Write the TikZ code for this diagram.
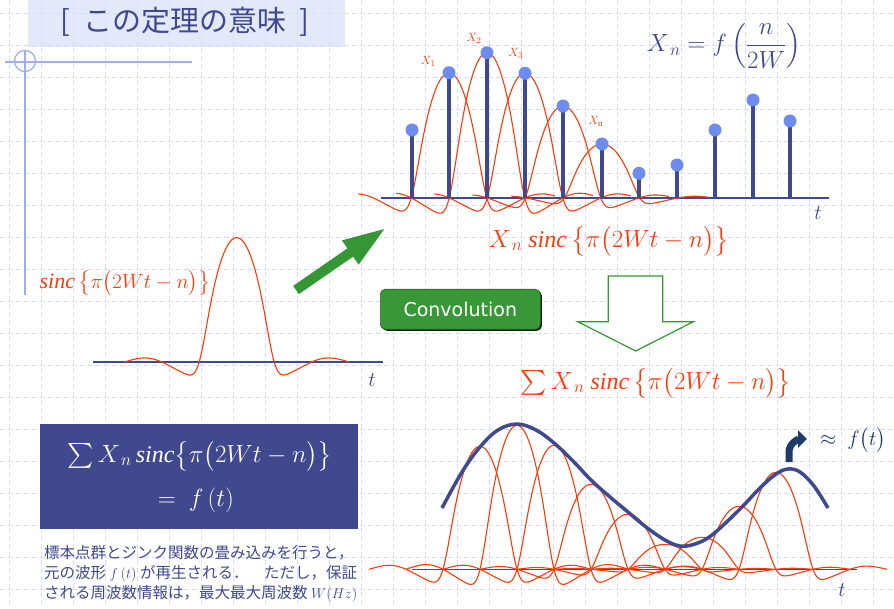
\documentclass[tikz,border=0pt]{standalone}
\usepackage{amsmath}
\usepackage{fontspec}
\setmainfont{Liberation Serif}
\newfontfamily\jpfont{Noto Sans CJK JP}
\newfontfamily\btnfont{DejaVu Sans}
\usepackage{xcolor}
\usetikzlibrary{arrows.meta, shadows}

\definecolor{sincred}{RGB}{250,60,10}
\definecolor{stemblue}{RGB}{64,72,142}
\definecolor{dotblue}{RGB}{110,140,240}
\definecolor{gridblue}{RGB}{214,221,246}
\definecolor{titlefill}{RGB}{227,232,251}
\definecolor{decoblue}{RGB}{160,174,240}
\definecolor{convgreen}{RGB}{56,152,56}
\definecolor{arrowgreen}{RGB}{52,150,52}
\definecolor{navyarrow}{RGB}{30,58,106}

\tikzset{
  gridline/.style={gridblue, line width=0.8pt, dash pattern=on 5pt off 3pt},
  decoline/.style={decoblue, line width=1.3pt},
  sincline/.style={sincred, line width=1.1pt},
  stemline/.style={stemblue, line width=4pt},
  axisline/.style={stemblue, line width=1.3pt},
  envelope/.style={stemblue, line width=3.5pt},
  redmath/.style={text=sincred, inner sep=0pt, font=\fontsize{24}{28}\selectfont},
  bluemath/.style={text=stemblue, inner sep=0pt, font=\fontsize{23}{28}\selectfont},
  whitemath/.style={text=white, inner sep=0pt, font=\fontsize{24}{28}\selectfont},
  smalllabel/.style={text=sincred, inner sep=0pt, font=\fontsize{13}{15}\selectfont},
  axislabel/.style={text=stemblue, inner sep=0pt, font=\fontsize{22}{24}\selectfont},
  jptext/.style={text=stemblue, inner sep=0pt, align=left, font=\jpfont\fontsize{15.5}{20}\selectfont},
  convbutton/.style={rounded corners=5pt, fill=convgreen, draw=convgreen!70!black, line width=0.6pt,
    text=white, font=\btnfont\fontsize{19}{22}\selectfont, minimum width=160pt, minimum height=40pt,
    drop shadow={shadow xshift=1.6pt, shadow yshift=-1.6pt, fill=black, opacity=0.9}},
  hollowarrow/.style={draw=arrowgreen, line width=1.2pt, fill=white}
}

\begin{document}
\begin{tikzpicture}[x=1pt, y=-1pt,
  declare function={sincw(\u)=sin(180*(\u))/(pi*(\u))*(0.25+(0.75+0.6*(\u)*(\u))/(1+((\u)*(\u)/1.1)^4));}]
\useasboundingbox (0,0) rectangle (894,608);

% background
\fill[titlefill] (28,0) rectangle (345,47);
\foreach \gx in {9.3,41.3,...,894} \draw[gridline] (\gx,0) -- (\gx,608);
\foreach \gy in {13.7,45.7,...,608} \draw[gridline] (0,\gy) -- (894,\gy);

% title and corner mark
\node[text=stemblue, inner sep=0pt, font=\jpfont\fontsize{29}{32}\selectfont] (title) at (185,22)
  {{[}\hspace{0.45em}この定理の意味\hspace{0.45em}{]}};
\draw[decoline] (5,62) -- (192,62);
\draw[decoline] (25,50) -- (25,295);
\draw[decoline] (25,61) circle (10.5pt);

% samples with their sinc pulses
\draw[axisline] (381,198) -- (829,198);
\foreach \cx/\ch in {449/125.3, 487/145.6, 525/125, 563/92, 602/54}
  \draw[sincline] plot[domain=-2.4:2.8, samples=100] ({\cx+37.8*\x},{198-\ch*sincw(\x)});
\foreach \sx/\sy in {412/130, 449/72.7, 487/52.7, 525/73.3, 563/106, 602/144,
                     639/173.3, 677/165, 715/130, 753/100, 790/121} {
  \draw[stemline] (\sx,198) -- (\sx,\sy);
  \fill[dotblue] (\sx,\sy) circle (6.5pt);
}
\node[smalllabel] (xone) at (428.3,61.7) {$X_1$};
\node[smalllabel] (xtwo) at (474,38.3) {$X_2$};
\node[smalllabel] (xthree) at (515.7,53.3) {$X_3$};
\node[smalllabel] (xenn) at (595.7,121.7) {$X_{\mathrm{n}}$};
\node[axislabel] (ttop) at (818,213) {$t$};
\node[bluemath] (sampledef) at (724,46) {$X_{\,n}=f\left(\dfrac{n}{2W}\right)$};
\node[redmath] (pulsesum) at (609,241) {$X_{\,n}\ \mathit{sinc}\,\bigl\{\pi\bigl(2Wt-n\bigr)\bigr\}$};

% single sinc
\draw[axisline] (93,362) -- (383,362);
\draw[sincline] plot[domain=-3:3, samples=120] ({236.7+37.5*\x},{362-124.4*sincw(\x)});
\node[redmath, font=\fontsize{22}{26}\selectfont] (pulselabel) at (125,283) {$\mathit{sinc}\,\bigl\{\pi\bigl(2Wt-n\bigr)\bigr\}$};
\node[axislabel] (tleft) at (372,380) {$t$};

% green arrow
\coordinate (gtail) at (296,290);
\coordinate (ghead) at (386.5,227.5);
\draw[arrowgreen, line width=10pt, -{Triangle[length=44pt, width=26pt]}] (gtail) -- (ghead);

% convolution
\node[convbutton] (conv) at (460.3,309.2) {Convolution};
\draw[hollowarrow] (608.3,276) -- (662.7,276) -- (662.7,321.7) -- (693.3,321.7)
  -- (635.7,351) -- (577.7,321.7) -- (608.3,321.7) -- cycle;
\node[redmath] (sumlabel) at (656,383) {$\sum X_{\,n}\ \mathit{sinc}\,\bigl\{\pi\bigl(2Wt-n\bigr)\bigr\}$};

% reconstruction
\draw[axisline] (412,569.3) -- (857,569.3);
\foreach \cx/\ch in {480/123, 517/144, 554/124, 591/85, 628/55, 665/25, 702/32, 739/63, 776/97}
  \draw[sincline] plot[domain=-3:3, samples=120] ({\cx+37*\x},{569.3-\ch*sincw(\x)});
\draw[envelope] plot[smooth, tension=0.6] coordinates {(442,508) (462,472) (480,447) (498,430)
  (517,424) (536,430) (554,443) (573,461) (591,480) (610,497) (628,512) (646,527) (665,540)
  (680,546) (695,544) (712,535) (739,510) (760,488) (776,474) (788,469) (800,472) (814,486) (828,508)};
\node[axislabel] (tbottom) at (842,590) {$t$};
\coordinate (bendstart) at (789,462);
\coordinate (bendend) at (807,439);
\draw[navyarrow, line width=7pt, -{Triangle[length=9pt, width=17pt]}]
  (bendstart) -- (789,452) to[out=90, in=180] (bendend);
\node[text=navyarrow, inner sep=0pt, font=\fontsize{22}{26}\selectfont] (approx) at (853,440) {$\approx\ f\bigl(t\bigr)$};

% result box
\fill[stemblue] (40,424) rectangle (358.3,529.3);
\node[whitemath] (boxsum) at (200,456) {$\sum X_{\,n}\,\mathit{sinc}\bigl\{\pi\bigl(2Wt-n\bigr)\bigr\}$};
\node[whitemath] (boxeq) at (196,500) {$=\ f\,(t)$};
\node[jptext, anchor=west] (note) at (44,574)
  {標本点群とジンク関数の畳み込みを行うと，\\元の波形 $f\,(t)$ が再生される．　ただし，保証\\される周波数情報は，最大最大周波数 $W(Hz)$};
\end{tikzpicture}
\end{document}
